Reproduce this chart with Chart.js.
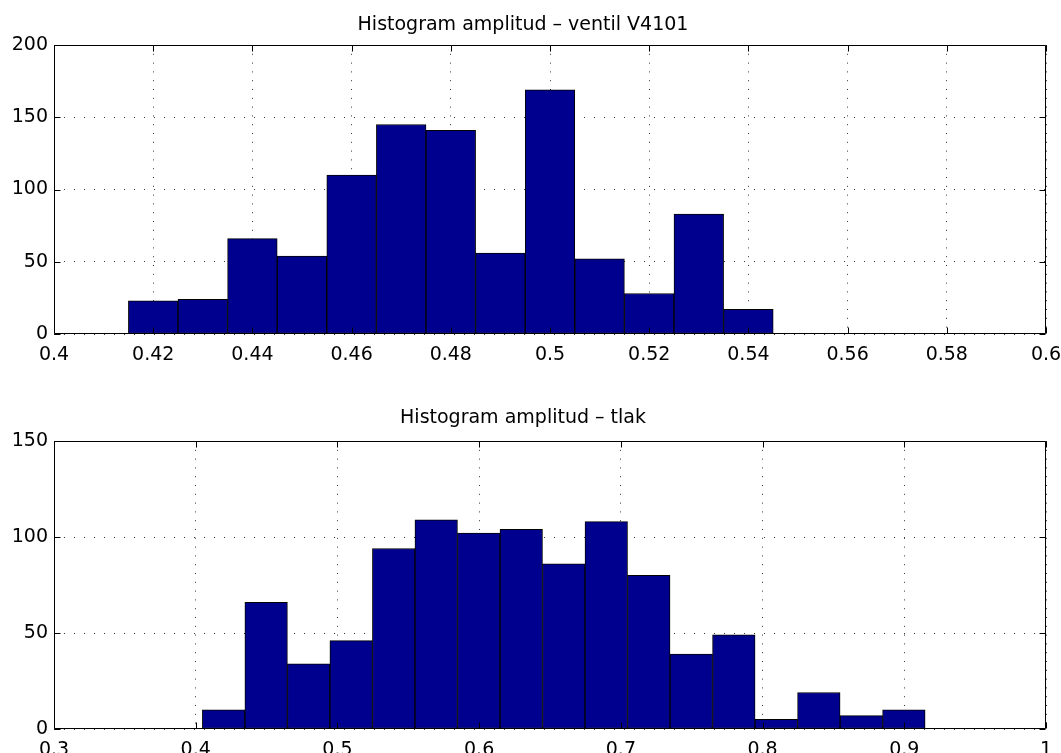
<!DOCTYPE html>
<html><head><meta charset="utf-8">
<script src="https://cdn.jsdelivr.net/npm/chart.js@4/dist/chart.umd.min.js"></script>
<style>
html,body{margin:0;padding:0;background:#fff;overflow:hidden;width:1061px;height:753px;}
canvas{position:absolute;left:0;}
#c1{top:0}
#c2{top:380px}
</style></head><body>
<canvas id="c1" width="1061" height="380"></canvas>
<canvas id="c2" width="1061" height="400"></canvas>
<script>
// ---- data: top histogram (ventil V4101) ----
const title1 = 'Histogram amplitud \u2013 ventil V4101';
const binCenters1 = [0.42, 0.43, 0.44, 0.45, 0.46, 0.47, 0.48, 0.49, 0.50, 0.51, 0.52, 0.53, 0.54];
const counts1 = [23, 24, 66, 54, 110, 145, 141, 56, 169, 52, 28, 83, 17];
const xTicks1 = [0.4, 0.42, 0.44, 0.46, 0.48, 0.5, 0.52, 0.54, 0.56, 0.58, 0.6];
const yTicks1 = [0, 50, 100, 150, 200];

// ---- data: bottom histogram (tlak) ----
const title2 = 'Histogram amplitud \u2013 tlak';
const binCenters2 = [0.4197, 0.4497, 0.4797, 0.5097, 0.5397, 0.5697, 0.5997, 0.6297, 0.6597, 0.6897, 0.7197, 0.7497, 0.7797, 0.8097, 0.8397, 0.8697, 0.8997];
const counts2 = [10, 66, 34, 46, 94, 109, 102, 104, 86, 108, 80, 39, 49, 5, 19, 7, 10];
const xTicks2 = [0.3, 0.4, 0.5, 0.6, 0.7, 0.8, 0.9, 1];
const yTicks2 = [0, 50, 100, 150];

Chart.defaults.font.family = "'DejaVu Sans', 'Liberation Sans', sans-serif";
Chart.defaults.font.size = 19;
Chart.defaults.color = '#000';

const boxPlugin = {
  id: 'matlabBox',
  afterDatasetsDraw(chart) {
    const {ctx, chartArea: a, scales: {x, y}} = chart;
    const L = Math.round(a.left) + 0.5, R = Math.round(a.right) - 0.5;
    const T = Math.round(a.top) + 0.5, B = Math.round(a.bottom) - 0.5;
    const tl = 6;
    ctx.save();
    ctx.strokeStyle = '#000';
    ctx.lineWidth = 1;
    ctx.beginPath();
    ctx.rect(L, T, R - L, B - T);
    x.ticks.forEach(t => {
      const px = Math.round(x.getPixelForValue(t.value)) + 0.5;
      ctx.moveTo(px, B); ctx.lineTo(px, B - tl);
      ctx.moveTo(px, T); ctx.lineTo(px, T + tl);
    });
    y.ticks.forEach(t => {
      const py = Math.round(y.getPixelForValue(t.value)) + 0.5;
      ctx.moveTo(L, py); ctx.lineTo(L + tl, py);
      ctx.moveTo(R, py); ctx.lineTo(R - tl, py);
    });
    ctx.stroke();
    ctx.restore();
  }
};

function makeChart(id, title, centers, counts, xTicks, yTicks, xMin, xMax, yMax, titlePad, xAxisH) {
  const data = centers.map((c, i) => ({x: c, y: counts[i]}));
  return new Chart(document.getElementById(id), {
    type: 'bar',
    data: {
      datasets: [{
        data: data,
        backgroundColor: '#00008F',
        borderColor: '#000000',
        borderWidth: 1,
        borderSkipped: false,
        barPercentage: 1.0,
        categoryPercentage: 1.0
      }]
    },
    options: {
      responsive: false,
      animation: false,
      devicePixelRatio: 1,
      layout: {padding: {left: 0, right: 15, top: 0, bottom: 0}},
      plugins: {
        legend: {display: false},
        tooltip: {enabled: false},
        title: {
          display: true,
          text: title,
          color: '#000',
          font: {size: 19, weight: 'normal', lineHeight: 1.2},
          padding: titlePad
        }
      },
      scales: {
        x: {
          type: 'linear',
          min: xMin, max: xMax,
          offset: false,
          afterBuildTicks: s => { s.ticks = xTicks.map(v => ({value: v})); },
          afterFit: s => { s.height = xAxisH; s.paddingLeft = 0; s.paddingRight = 0; },
          ticks: {
            autoSkip: false, maxRotation: 0, minRotation: 0, padding: 10,
            callback: v => String(v)
          },
          grid: {offset: false, color: '#333', lineWidth: 1, drawTicks: false, borderDash: [1, 7.8]},
          border: {display: false, dash: [1, 7.8]}
        },
        y: {
          type: 'linear',
          min: 0, max: yMax,
          afterBuildTicks: s => { s.ticks = yTicks.map(v => ({value: v})); },
          afterFit: s => { s.width = 54; s.paddingTop = 0; s.paddingBottom = 0; },
          ticks: {padding: 6, callback: v => String(v)},
          grid: {color: '#333', lineWidth: 1, drawTicks: false, borderDash: [1, 9]},
          border: {display: false, dash: [1, 9]}
        }
      }
    },
    plugins: [boxPlugin]
  });
}

makeChart('c1', title1, binCenters1, counts1, xTicks1, yTicks1, 0.4, 0.6, 200,
  {top: 13.6, bottom: 8.6}, 46);
makeChart('c2', title2, binCenters2, counts2, xTicks2, yTicks2, 0.3, 1, 150,
  {top: 26.6, bottom: 11.6}, 51);
</script>
</body></html>
